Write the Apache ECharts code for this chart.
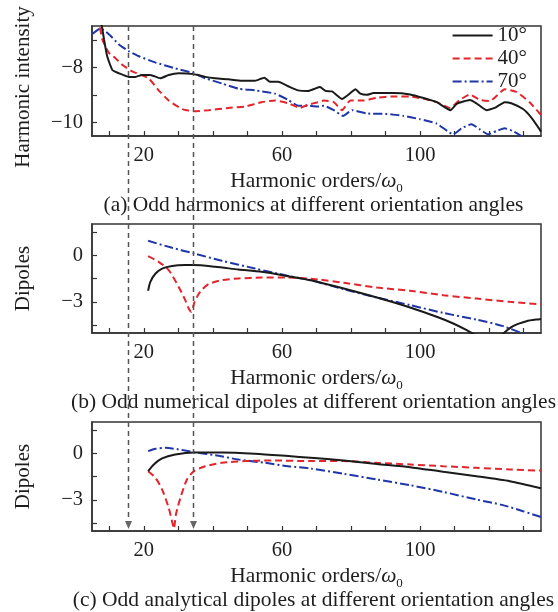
<!DOCTYPE html>
<html>
<head>
<meta charset="utf-8">
<script src="https://cdn.jsdelivr.net/npm/echarts@6/dist/echarts.min.js"></script>
<style>
html,body{margin:0;padding:0;background:#fff;}
#main{width:558px;height:612px;}
</style>
</head>
<body>
<div id="main"></div>
<script>
// ---------------- data ----------------
const seriesNames = ['10°', '40°', '70°'];
const xRange = [5, 135];
const xTickValues = [10, 20, 30, 40, 50, 60, 70, 80, 90, 100, 110, 120, 130];
const xLabelValues = [20, 60, 100];
const yRangeA = [-10.5, -6.5];
const yTicksA = [-10, -9, -8, -7];
const yLabelsA = [-10, -8];
const yRangeBC = [-5, 2];
const yTicksBC = [-4.5, -3, -1.5, 0, 1.5];
const yLabelsBC = [-3, 0];
const markerOrders = [15.5, 34.3];

// (a) odd harmonics
const a10 = [[7.6,-6.3],[8.5,-7.0],[9.4,-7.6],[10.9,-8.1],[12.8,-8.22],[15.7,-8.35],[17.6,-8.35],[19.5,-8.28],[21.9,-8.28],[24.8,-8.4],[27.2,-8.28],[30.1,-8.22],[34.5,-8.25],[37.8,-8.35],[40.7,-8.4],[44.5,-8.44],[48.4,-8.49],[52.2,-8.49],[54.9,-8.38],[56.5,-8.53],[58.9,-8.53],[61.8,-8.69],[64.7,-8.84],[67.6,-8.86],[69.5,-8.78],[71,-8.72],[72.6,-8.86],[74.5,-8.88],[77.4,-9.15],[79.3,-8.99],[81.3,-8.8],[82.7,-8.96],[84.6,-9.0],[86.5,-8.94],[92.3,-8.94],[97.1,-8.99],[101,-9.12],[104.8,-9.27],[108.8,-9.56],[110.6,-9.33],[114.4,-9.19],[116.3,-9.31],[119.2,-9.56],[121.6,-9.48],[124.5,-9.27],[126.4,-9.31],[129.8,-9.52],[132.2,-9.83],[134.6,-10.26],[135,-10.35]];
const a40 = [[7.3,-6.55],[8,-7.0],[9.9,-7.48],[11.8,-7.67],[13.75,-7.91],[16.2,-8.12],[18.6,-8.25],[21.4,-8.4],[24.3,-8.84],[27.2,-9.21],[31.1,-9.52],[34.5,-9.6],[38.75,-9.56],[44.5,-9.48],[49.3,-9.43],[54.1,-9.27],[58,-9.21],[61.8,-9.31],[65.2,-9.48],[67.6,-9.36],[70.5,-9.27],[72.1,-9.21],[75,-9.27],[77.4,-9.56],[79.8,-9.21],[83.7,-9.21],[87.5,-9.11],[92.3,-9.06],[97.1,-9.06],[101,-9.15],[104.8,-9.27],[108.7,-9.48],[111.5,-9.19],[114.4,-8.99],[117.3,-9.19],[120.2,-9.23],[124.5,-8.8],[127.9,-8.9],[131.7,-9.27],[134.6,-9.68],[135,-9.72]];
const a70 = [[5,-6.8],[7.5,-6.59],[9.9,-6.8],[12.8,-7.17],[15.7,-7.42],[18.6,-7.6],[23.4,-7.83],[29.1,-8.04],[34.5,-8.22],[37.8,-8.4],[42.6,-8.59],[47.4,-8.78],[52.2,-8.84],[58,-8.96],[61.8,-9.19],[64.7,-9.4],[67.6,-9.4],[70.5,-9.43],[72.1,-9.4],[75,-9.56],[77.7,-9.77],[80.3,-9.56],[84.6,-9.68],[90.4,-9.7],[95.2,-9.77],[100,-9.89],[104.8,-10.05],[109.6,-10.44],[112,-10.22],[114.9,-10.07],[117.3,-10.26],[119.7,-10.44],[122.1,-10.32],[124.5,-10.22],[126.9,-10.32],[129.3,-10.5],[130,-10.6]];

// (b) numerical dipoles
const b10 = [[21.25,-2.29],[21.9,-1.71],[23.4,-1.18],[25.3,-0.86],[28.2,-0.69],[32,-0.64],[34.5,-0.64],[40.7,-0.75],[47.4,-0.92],[54.1,-1.07],[61.8,-1.35],[68.3,-1.61],[77.9,-2.14],[87.5,-2.72],[97.1,-3.36],[104.8,-3.96],[109.6,-4.39],[113.5,-4.82],[115.9,-5.14],[117.5,-5.7],[119.5,-6.5],[121.6,-5.7],[123.6,-5.14],[126.9,-4.56],[130.8,-4.24],[134.6,-4.11],[135,-4.1]];
const b40 = [[21.25,-0.06],[24.3,-0.43],[27.2,-0.96],[30.1,-2.04],[32,-2.89],[33,-3.43],[33.75,-3.64],[34.7,-3.0],[36.3,-2.36],[38.75,-1.86],[42.6,-1.61],[47.4,-1.5],[54.1,-1.44],[61.8,-1.44],[70.5,-1.56],[77.9,-1.78],[87.5,-2.08],[97.1,-2.29],[106.7,-2.57],[116.3,-2.79],[126,-3.0],[135,-3.16]];
const b70 = [[21.25,0.92],[28.2,0.47],[34.5,0.11],[42.6,-0.36],[52.2,-0.86],[61.8,-1.33],[68.3,-1.61],[77.9,-2.19],[87.5,-2.72],[97.1,-3.21],[106.7,-3.71],[116.3,-4.14],[124,-4.56],[130.8,-5.14],[132,-5.3]];

// (c) analytical dipoles
const c10 = [[21.25,-1.16],[22.9,-0.73],[25.3,-0.34],[29.1,-0.09],[34.5,0.04],[42.6,0.04],[52.2,-0.04],[61.8,-0.19],[68.3,-0.3],[77.9,-0.47],[87.5,-0.69],[97.1,-0.9],[106.7,-1.2],[116.3,-1.48],[126,-1.8],[135,-2.25]];
const c40 = [[21.25,-1.16],[23.4,-1.59],[25.3,-2.34],[27.2,-3.51],[28.4,-4.59],[28.7,-4.85],[29.3,-3.94],[30.6,-2.87],[32.5,-1.69],[34.5,-1.16],[37.8,-0.84],[42.6,-0.62],[49.3,-0.51],[57,-0.47],[68.3,-0.51],[77.9,-0.51],[87.5,-0.62],[97.1,-0.73],[106.7,-0.84],[116.3,-0.94],[126,-1.05],[135,-1.12]];
const c70 = [[21.25,0.13],[23.4,0.28],[26.25,0.34],[30.1,0.24],[34.5,0.06],[40.7,-0.13],[47.4,-0.41],[55.1,-0.62],[61.8,-0.84],[68.3,-0.99],[77.9,-1.33],[87.5,-1.69],[97.1,-2.06],[106.7,-2.49],[116.3,-2.98],[124,-3.34],[129.8,-3.73],[135,-4.1]];

const xAxisTitle = '{t|Harmonic orders/}{w|ω}{s|0}';
const yTitles = ['Harmonic intensity', 'Dipoles', 'Dipoles'];
const captions = [
  '(a) Odd harmonics at different orientation angles',
  '(b) Odd numerical dipoles at different orientation angles',
  '(c) Odd analytical dipoles at different orientation angles'
];

// ---------------- styling ----------------
const FONT = "'Liberation Serif', 'DejaVu Serif', serif";
const TXT = '#1e1e1e';
const colors = ['#1a1a1a', '#e3242b', '#1f36a8'];
const dashes = ['solid', [7, 4], [9, 3, 2, 3]];
const gridsLayout = [
  {left: 92, right: 17, top: 26, height: 110},
  {left: 92, right: 17, top: 224, height: 109},
  {left: 92, right: 17, top: 422, height: 109}
];

const chart = echarts.init(document.getElementById('main'), null, {renderer: 'canvas'});

function fmt(v) { return (v < 0 ? '\u2212' : '') + Math.abs(v); }

function makeX(i) {
  return {
    gridIndex: i, type: 'value', min: xRange[0], max: xRange[1],
    splitLine: {show: false},
    axisLine: {show: true, onZero: false, lineStyle: {color: '#333', width: 1.5}},
    axisTick: {show: true, inside: true, length: 5, customValues: xTickValues, lineStyle: {color: '#333', width: 1.2}},
    axisLabel: {customValues: xLabelValues, fontSize: 20.5, fontFamily: FONT, color: TXT, margin: 9},
    name: xAxisTitle, nameLocation: 'middle', nameGap: 31,
    nameTextStyle: {
      rich: {
        t: {fontSize: 21.5, fontFamily: FONT, color: TXT},
        w: {fontSize: 21.5, fontFamily: FONT, fontStyle: 'italic', color: TXT},
        s: {fontSize: 13, fontFamily: FONT, color: TXT, verticalAlign: 'bottom', lineHeight: 28}
      }
    }
  };
}
function makeY(i, range, ticks, labels, pad) {
  return {
    gridIndex: i, type: 'value', min: range[0], max: range[1],
    splitLine: {show: false},
    axisLine: {show: true, onZero: false, lineStyle: {color: '#333', width: 1.5}},
    axisTick: {show: true, inside: true, length: 5, customValues: ticks, lineStyle: {color: '#333', width: 1.2}},
    axisLabel: {customValues: labels, formatter: fmt, fontSize: 20.5, fontFamily: FONT, color: TXT, margin: 9},
    name: yTitles[i], nameLocation: 'middle', nameGap: 58,
    nameTextStyle: {fontSize: 21, fontFamily: FONT, color: TXT, padding: pad}
  };
}

const panelData = [[a10, a40, a70], [b10, b40, b70], [c10, c40, c70]];
const series = [];
panelData.forEach((arr, gi) => {
  arr.forEach((d, si) => {
    series.push({
      type: 'line', name: seriesNames[si], xAxisIndex: gi, yAxisIndex: gi,
      data: d, symbol: 'none', showSymbol: false, smooth: gi === 0 ? 0.15 : 0.25, clip: true,
      itemStyle: {color: colors[si]},
      lineStyle: {color: colors[si], width: 2, type: dashes[si]},
      z: 3 - si
    });
  });
});

chart.setOption({
  animation: false,
  backgroundColor: '#fff',
  grid: gridsLayout.map(g => Object.assign({show: true, borderColor: '#333', borderWidth: 1.5, backgroundColor: 'transparent'}, g)),
  xAxis: [makeX(0), makeX(1), makeX(2)],
  yAxis: [
    makeY(0, yRangeA, yTicksA, yLabelsA, [0, 12, 0, 0]),
    makeY(1, yRangeBC, yTicksBC, yLabelsBC, 0),
    makeY(2, yRangeBC, yTicksBC, yLabelsBC, 0)
  ],
  legend: {
    data: seriesNames, orient: 'vertical', right: 31, top: 25, padding: 0,
    itemWidth: 40, itemHeight: 12, itemGap: 2,
    itemStyle: {color: 'transparent', borderColor: 'transparent', borderWidth: 0, opacity: 0},
    textStyle: {fontSize: 21, fontFamily: FONT, color: TXT, lineHeight: 20}
  },
  series: series
});

// annotations: vertical dashed guide lines across panels, and captions
const graphics = [];
const yTop = chart.convertToPixel({yAxisIndex: 0}, yRangeA[1]);
const yBot = chart.convertToPixel({yAxisIndex: 2}, yRangeBC[0]);
markerOrders.forEach(v => {
  const x = Math.round(chart.convertToPixel({xAxisIndex: 0}, v)) + 0.5;
  graphics.push({type: 'line', z: 50, shape: {x1: x, y1: yTop, x2: x, y2: yBot - 8}, style: {stroke: '#555', lineWidth: 1.5, lineDash: [5, 4]}});
  graphics.push({type: 'polygon', z: 50, shape: {points: [[x - 3.5, yBot - 10], [x + 3.5, yBot - 10], [x, yBot - 2]]}, style: {fill: '#666'}});
});
const xc = (chart.convertToPixel({xAxisIndex: 0}, xRange[0]) + chart.convertToPixel({xAxisIndex: 0}, xRange[1])) / 2;
[0, 1, 2].forEach(i => {
  const yb = chart.convertToPixel({yAxisIndex: i}, i === 0 ? yRangeA[0] : yRangeBC[0]);
  graphics.push({type: 'text', z: 40, style: {text: captions[i], x: xc - 3, y: yb + 69, textAlign: 'center', textVerticalAlign: 'middle', font: '21.5px ' + FONT, fill: TXT}});
});
chart.setOption({graphic: graphics});
</script>
</body>
</html>
